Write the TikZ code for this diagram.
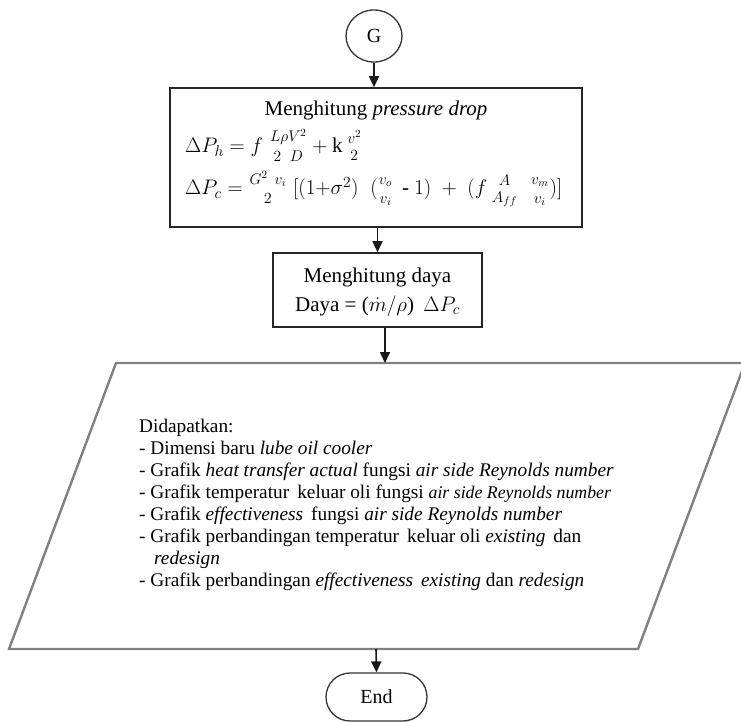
\RequirePackage{fix-cm}
\documentclass[tikz,border=0pt]{standalone}
\usepackage{amsmath}
\usepackage{fontspec}
\setmainfont{Liberation Serif}
\usetikzlibrary{shapes.geometric,shapes.misc,arrows.meta}

% larger script sizes for the 21pt equation lines
\DeclareMathSizes{21}{21}{15.5}{11}
% stacked fraction without a visible bar, with a little extra room below
\newcommand{\nofrac}[2]{\genfrac{}{}{0pt}{1}{#1}{\rule{0pt}{14.5pt}#2}}

\tikzset{
  procbox/.style={draw=black!85, line width=1.6pt, rectangle, inner sep=0pt},
  termnode/.style={draw=black!80, line width=1.3pt, inner sep=0pt},
  iobox/.style={draw=black!50, line width=2.4pt, line join=miter},
  conn/.style={draw=black!90, line width=1.6pt, -{Triangle[length=11pt,width=10pt]}},
  bigtext/.style={font=\fontsize{21}{25}\selectfont, inner sep=0pt},
  listtext/.style={font=\fontsize{19.3}{22}\selectfont, inner sep=0pt, align=left},
}

\begin{document}
\begin{tikzpicture}[x=1pt,y=-1pt]
  \useasboundingbox (0,0) rectangle (741,722);

  % start connector
  \node[termnode, ellipse, minimum width=56pt, minimum height=52pt,
        font=\fontsize{20}{24}\selectfont] (g) at (374,36) {G};

  % pressure drop step
  \node[procbox, minimum width=412pt, minimum height=139pt] (box1) at (376,157.5) {};
  \node[bigtext, anchor=base] (t1) at (376,116) {Menghitung \textit{pressure drop}};
  \node[bigtext, anchor=base west] (eqh) at (185,153)
    {$\Delta P_h = f\;\nofrac{L\rho V^2}{2\;\;D} + \mathrm{k}\,\nofrac{v^2}{2}$};
  \node[bigtext, anchor=base west] (eqc) at (185,195)
    {$\Delta P_c = \nofrac{G^2\;\, v_i}{2}\;[(1{+}\sigma^2)\;\;(\nofrac{v_o}{v_i}\,\text{ - }1)\;+\;(f\,\nofrac{A}{A_{ff}}\;\;\nofrac{v_m}{v_i})]$};

  % power step (two centred lines, base anchor on the last line)
  \node[procbox, minimum width=209pt, minimum height=74pt] (box2) at (377.5,290) {};
  \node[bigtext, anchor=base, align=center, font=\fontsize{21}{29}\selectfont] (t2) at (377.5,311)
    {Menghitung daya\\Daya = ($\dot m/\rho$)\;\,$\Delta P_c$};

  % output parallelogram
  \coordinate (p1) at (116,363);
  \coordinate (p2) at (745,363);
  \coordinate (p3) at (638,649);
  \coordinate (p4) at (9,649);
  \draw[iobox] (p1) -- (p2) -- (p3) -- (p4) -- cycle;
  \coordinate (pin) at (385,363);
  \coordinate (pout) at (376,649);

  \node[listtext, anchor=north west] (out) at (139,419) {%
    Didapatkan:\\
    - Dimensi baru \textit{lube oil cooler}\\
    - Grafik \textit{heat transfer actual} fungsi \textit{air side Reynolds number}\\
    - Grafik temperatur\, keluar oli fungsi {\fontsize{17.8}{22}\selectfont\textit{air side Reynolds number}}\\
    - Grafik \textit{effectiveness}\, fungsi \textit{air side Reynolds number}\\
    - Grafik perbandingan temperatur\, keluar oli \textit{existing}\, dan\\
    \hspace*{15pt}\textit{redesign}\\
    - Grafik perbandingan \textit{effectiveness}\, \textit{existing} dan \textit{redesign}};

  % end terminal
  \node[termnode, rounded rectangle, minimum width=101pt, minimum height=48pt,
        font=\fontsize{20}{24}\selectfont] (endn) at (376.5,697) {End};

  % connectors
  \draw[conn] (g.south) -- (g.south |- box1.north);
  \draw[conn] (box2.north |- box1.south) -- (box2.north);
  \draw[conn] (pin |- box2.south) -- (pin);
  \draw[conn] (pout) -- (endn.north);
\end{tikzpicture}
\end{document}
